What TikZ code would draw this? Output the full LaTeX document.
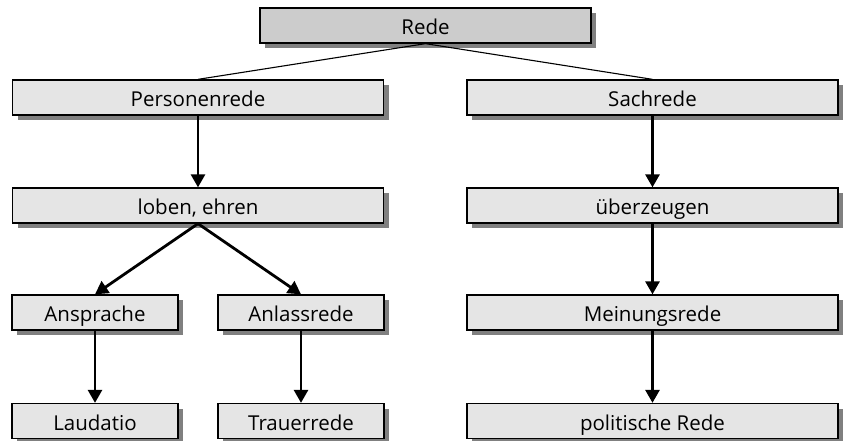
\documentclass[tikz,border=0pt]{standalone}
\usepackage{fontspec}
\setmainfont{Open Sans}
\usetikzlibrary{shadows,arrows.meta}

\tikzset{
  box/.style={draw, line width=1.3pt, fill=black!10, minimum height=35pt,
    inner sep=0pt, text height=18pt, text depth=0pt,
    font=\fontsize{20.5}{24}\selectfont,
    drop shadow={shadow xshift=5pt, shadow yshift=-5pt, fill=black!50, opacity=1}},
  wide/.style={box, minimum width=371pt},
  small/.style={box, minimum width=166pt},
  pfeil/.style={->, line width=2.8pt, >={Triangle[length=13pt,width=14pt]}}
}

\begin{document}
\begin{tikzpicture}[x=1pt, y=-1pt]
\useasboundingbox (0,0) rectangle (844,441);

\node[box, minimum width=331pt, fill=black!20] at (425.5,25.5) (rede) {Rede};

\node[wide] at (198,97.5) (person) {Personenrede};
\node[wide] at (652.5,97.5) (sach) {Sachrede};

\node[wide] at (198,205.5) (loben) {loben, ehren};
\node[wide] at (652.5,205.5) (ueber) {überzeugen};

\node[small] at (95,312.5) (ansprache) {Ansprache};
\node[small] at (301,312.5) (anlass) {Anlassrede};
\node[wide] at (652.5,312.5) (meinung) {Meinungsrede};

\node[small] at (95,421) (laudatio) {Laudatio};
\node[small] at (301,421) (trauer) {Trauerrede};
\node[wide] at (652.5,421) (politik) {politische Rede};

\path[line width=1.1pt] (rede.south) edge (person.north);
\path[line width=1.1pt] (rede.south) edge (sach.north);

\path[pfeil] (person) edge (loben);
\path[pfeil] (sach) edge (ueber);
\path[pfeil] (loben.south) edge (ansprache.north);
\path[pfeil] (loben.south) edge (anlass.north);
\path[pfeil] (ueber) edge (meinung);
\path[pfeil] (ansprache) edge (laudatio);
\path[pfeil] (anlass) edge (trauer);
\path[pfeil] (meinung) edge (politik);

\end{tikzpicture}
\end{document}
